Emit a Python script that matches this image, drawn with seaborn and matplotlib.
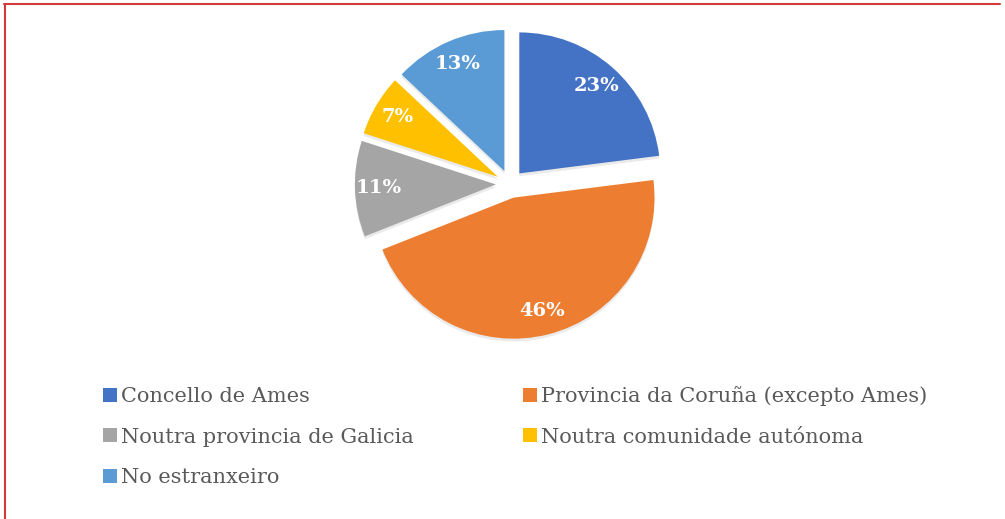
import matplotlib
matplotlib.use("Agg")
import matplotlib.pyplot as plt
import seaborn as sns
from matplotlib.patches import Patch
from matplotlib.lines import Line2D
import matplotlib.patheffects as pe

categories = ["Concello de Ames", "Provincia da Coruña (excepto Ames)",
              "Noutra provincia de Galicia", "Noutra comunidade autónoma",
              "No estranxeiro"]
values = [23, 46, 11, 7, 13]
colors = ["#4472C4", "#ED7D31", "#A5A5A5", "#FFC000", "#5B9BD5"]

sns.set_theme(style="white")
plt.rcParams['font.family'] = ['DejaVu Serif', 'DejaVu Sans']

fig = plt.figure(figsize=(10.05, 5.19), dpi=100)
fig.patch.set_facecolor("white")

r_px = 141
L = 1.25
w_px = 2 * L * r_px
cx, cy = 510, 184
ax = fig.add_axes([(cx - w_px / 2) / 1005, (519 - cy - w_px / 2) / 519,
                   w_px / 1005, w_px / 519])
wedges, texts, autotexts = ax.pie(
    values, colors=colors, startangle=90, counterclock=False,
    explode=[0.1] * len(values), autopct='%.0f%%', pctdistance=0.83,
    wedgeprops=dict(linewidth=0),
    textprops=dict(color="white", fontsize=14, fontweight="bold"))
for w in wedges:
    w.set_path_effects([pe.SimplePatchShadow(offset=(0, -2), shadow_rgbFace="#999999", alpha=0.2),
                        pe.Normal()])
ax.set_xlim(-L, L)
ax.set_ylim(-L, L)
ax.set_aspect("equal")
ax.axis("off")

order = [0, 2, 4, 1, 3]
handles = [Patch(facecolor=colors[i], edgecolor="none") for i in order]
labels = [categories[i] for i in order]
leg = fig.legend(handles, labels, ncol=2, loc="upper left",
                 bbox_to_anchor=(103 / 1005, 1 - 386 / 519),
                 frameon=False, fontsize=15, handlelength=0.66, handleheight=0.66,
                 handletextpad=0.2, labelspacing=1.04, columnspacing=5.27,
                 borderaxespad=0, borderpad=0)
for t in leg.get_texts():
    t.set_color("#595959")

# red frame lines (top and left)
fig.add_artist(Line2D([4 / 1005, 0.995], [1 - 3.5 / 519, 1 - 3.5 / 519], color="#D23A3A", lw=1.5))
fig.add_artist(Line2D([4.5 / 1005, 4.5 / 1005], [0, 1 - 3.5 / 519], color="#D23A3A", lw=1.5))

fig.savefig("out.png", dpi=100)
